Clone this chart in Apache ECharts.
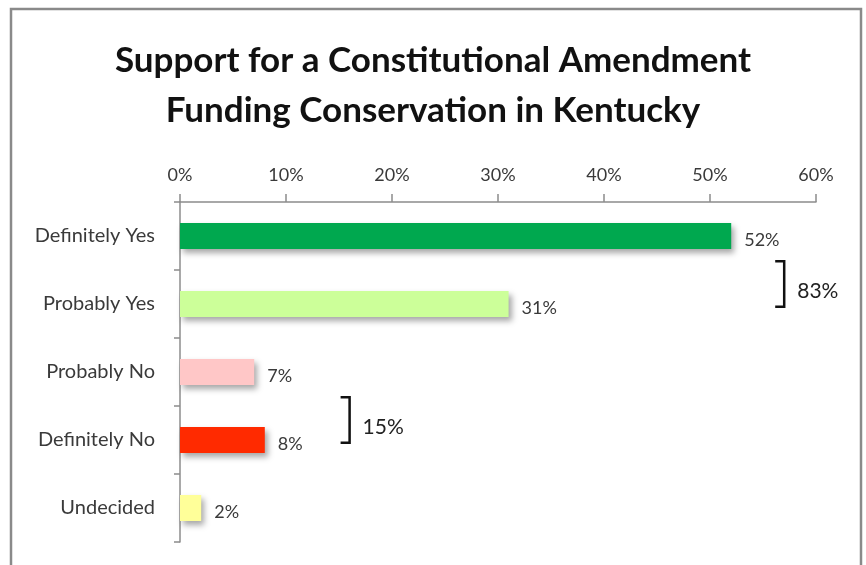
<!DOCTYPE html>
<html>
<head>
<meta charset="utf-8">
<script src="https://cdn.jsdelivr.net/npm/echarts@6/dist/echarts.min.js"></script>
<style>
  html, body { margin: 0; padding: 0; background: #fff; }
  #chart { width: 866px; height: 565px; }
</style>
</head>
<body>
<div id="chart"></div>
<script>
// Survey responses (percent of respondents)
const categories = ['Definitely Yes', 'Probably Yes', 'Probably No', 'Definitely No', 'Undecided'];
const values = [52, 31, 7, 8, 2];
const barColors = ['#00a84f', '#ccff99', '#ffc7c7', '#ff2a00', '#ffff99'];
const axisMin = 0, axisMax = 60, axisStep = 10;

// Answer pairs that get a bracket with their combined share
const groupYes = [0, 1];
const groupNo = [2, 3];

const FONT = 'Lato, "Open Sans", sans-serif';
const chart = echarts.init(document.getElementById('chart'), null, { renderer: 'canvas' });

const option = {
  backgroundColor: '#ffffff',
  animation: false,
  title: {
    text: 'Support for a Constitutional Amendment\nFunding Conservation in Kentucky',
    left: 'center',
    top: 31,
    textStyle: { fontFamily: FONT, fontSize: 35, fontWeight: 'bold', color: '#111', lineHeight: 50 }
  },
  grid: { left: 180, right: 50, top: 202, bottom: 23 },
  xAxis: {
    type: 'value',
    position: 'top',
    min: axisMin, max: axisMax, interval: axisStep,
    axisLine: { show: true, lineStyle: { color: '#8c8c8c', width: 1.5 } },
    axisTick: { show: true, length: 8, lineStyle: { color: '#8c8c8c', width: 1.5 } },
    splitLine: { show: false },
    axisLabel: { formatter: v => v + '%', fontFamily: FONT, fontSize: 18, color: '#3a3a3a', margin: 18 }
  },
  yAxis: {
    type: 'category',
    inverse: true,
    data: categories,
    axisLine: { show: true, lineStyle: { color: '#8c8c8c', width: 1.5 } },
    axisTick: { show: true, length: 6, lineStyle: { color: '#8c8c8c', width: 1.5 } },
    axisLabel: { fontFamily: FONT, fontSize: 20, color: '#3a3a3a', margin: 25 }
  },
  series: [{
    type: 'bar',
    barWidth: 26,
    data: values.map((v, i) => ({
      value: v,
      itemStyle: {
        color: barColors[i],
        shadowColor: 'rgba(0,0,0,0.35)',
        shadowBlur: 6,
        shadowOffsetX: 3,
        shadowOffsetY: 4
      }
    })),
    label: {
      show: true,
      position: 'right',
      distance: 13,
      offset: [0, 4],
      formatter: p => p.value + '%',
      fontFamily: FONT, fontSize: 18, color: '#3a3a3a'
    }
  }]
};
chart.setOption(option);

// Bracket plus combined percentage next to a pair of bars
function bracket(group, xVal) {
  const a = chart.convertToPixel({ gridIndex: 0 }, [xVal, group[0]]);
  const b = chart.convertToPixel({ gridIndex: 0 }, [xVal, group[1]]);
  const band = b[1] - a[1];
  const x = a[0];
  const y0 = a[1] + 0.37 * band;
  const y1 = b[1] + 0.04 * band;
  const total = values[group[0]] + values[group[1]];
  return [
    {
      type: 'polyline',
      shape: { points: [[x - 9, y0], [x, y0], [x, y1], [x - 9, y1]] },
      style: { stroke: '#111', lineWidth: 2.5, fill: null }
    },
    {
      type: 'text',
      x: x + 13,
      y: (y0 + y1) / 2 + 7,
      style: {
        text: total + '%',
        fontFamily: FONT, fontSize: 21, fill: '#222',
        textAlign: 'left', textVerticalAlign: 'middle'
      }
    }
  ];
}

chart.setOption({
  graphic: [
    {
      type: 'rect',
      shape: { x: 11, y: 9, width: 850, height: 600 },
      style: { fill: null, stroke: '#8a8a8a', lineWidth: 2.5 },
      silent: true
    },
    ...bracket(groupYes, 57),
    ...bracket(groupNo, 16)
  ]
});
</script>
</body>
</html>
